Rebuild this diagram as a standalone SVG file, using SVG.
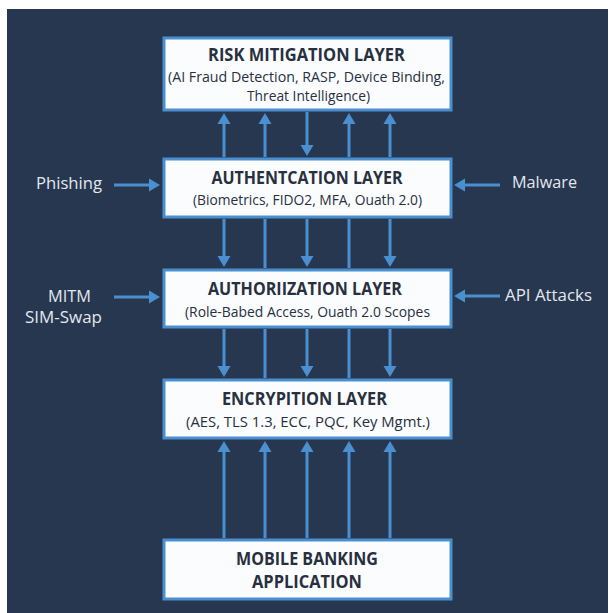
<svg xmlns="http://www.w3.org/2000/svg" width="609" height="613" viewBox="0 0 609 613">
  <style>
    .box { fill: #fbfcfd; stroke: #4a8fd0; stroke-width: 3; }
    .title { font-family: "Open Sans", "Noto Sans", "Liberation Sans", sans-serif; font-weight: 700; font-size: 17.5px; fill: #28303f; text-anchor: middle; }
    .sub { font-family: "Open Sans", "Noto Sans", "Liberation Sans", sans-serif; font-weight: 400; font-size: 15px; fill: #28303f; text-anchor: middle; }
    .side { font-family: "Open Sans", "Noto Sans", "Liberation Sans", sans-serif; font-weight: 400; font-size: 16.5px; fill: #e3e7ee; }
    .link { stroke: #4a8fd0; stroke-width: 3; fill: none; }
    .arrow { stroke: #4a8fd0; stroke-width: 3; fill: none; marker-end: url(#head); }
  </style>
  <defs>
    <marker id="head" markerUnits="userSpaceOnUse" markerWidth="12" markerHeight="14" viewBox="0 -7 12 14" refX="3" refY="0" orient="auto">
      <path d="M0,-6.5 L11,0 L0,6.5 z" fill="#4a8fd0"/>
    </marker>
  </defs>

  <!-- page background -->
  <rect x="0" y="0" width="609" height="613" fill="#ffffff"/>
  <rect x="7" y="9" width="601" height="604" fill="#26374f"/>

  <!-- connectors -->
  <g id="connectors">
    <!-- risk mitigation <-> authentication -->
    <line class="arrow" x1="224" y1="157" x2="224" y2="121"/>
    <line class="arrow" x1="265" y1="157" x2="265" y2="121"/>
    <line class="arrow" x1="307" y1="112" x2="307" y2="148"/>
    <line class="arrow" x1="349" y1="157" x2="349" y2="121"/>
    <line class="arrow" x1="390" y1="157" x2="390" y2="121"/>
    <!-- authentication -> authorization -->
    <line class="arrow" x1="224" y1="219" x2="224" y2="259"/>
    <line class="link" x1="265" y1="219" x2="265" y2="268"/>
    <line class="arrow" x1="307" y1="219" x2="307" y2="259"/>
    <line class="link" x1="349" y1="219" x2="349" y2="268"/>
    <line class="arrow" x1="390" y1="219" x2="390" y2="259"/>
    <!-- authorization -> encryption -->
    <line class="arrow" x1="224" y1="329" x2="224" y2="369"/>
    <line class="link" x1="265" y1="329" x2="265" y2="378"/>
    <line class="arrow" x1="307" y1="329" x2="307" y2="369"/>
    <line class="link" x1="349" y1="329" x2="349" y2="378"/>
    <line class="arrow" x1="390" y1="329" x2="390" y2="369"/>
    <!-- mobile app -> encryption -->
    <line class="arrow" x1="224" y1="538" x2="224" y2="449"/>
    <line class="arrow" x1="265" y1="538" x2="265" y2="449"/>
    <line class="arrow" x1="307" y1="538" x2="307" y2="449"/>
    <line class="arrow" x1="349" y1="538" x2="349" y2="449"/>
    <line class="arrow" x1="390" y1="538" x2="390" y2="449"/>
    <!-- threats -->
    <line class="arrow" x1="114" y1="185" x2="152" y2="185"/>
    <line class="arrow" x1="500" y1="185" x2="462" y2="185"/>
    <line class="arrow" x1="114" y1="297" x2="152" y2="297"/>
    <line class="arrow" x1="500" y1="296" x2="462" y2="296"/>
  </g>

  <!-- layers -->
  <g id="risk-mitigation">
    <rect class="box" x="164" y="38" width="287" height="72"/>
    <text class="title" x="306.5" y="61" textLength="197" lengthAdjust="spacingAndGlyphs">RISK MITIGATION LAYER</text>
    <text class="sub" x="306.5" y="82" textLength="277" lengthAdjust="spacingAndGlyphs">(AI Fraud Detection, RASP, Device Binding,</text>
    <text class="sub" x="308.5" y="101" textLength="123" lengthAdjust="spacingAndGlyphs">Threat Intelligence)</text>
  </g>

  <g id="authentication">
    <rect class="box" x="164" y="159" width="287" height="58"/>
    <text class="title" x="307" y="184" textLength="191" lengthAdjust="spacingAndGlyphs">AUTHENTCATION LAYER</text>
    <text class="sub" x="307.5" y="205" textLength="229" lengthAdjust="spacingAndGlyphs">(Biometrics, FIDO2, MFA, Ouath 2.0)</text>
  </g>

  <g id="authorization">
    <rect class="box" x="164" y="270" width="287" height="57"/>
    <text class="title" x="305" y="295" textLength="194" lengthAdjust="spacingAndGlyphs">AUTHORIIZATION LAYER</text>
    <text class="sub" x="307.5" y="317" textLength="245" lengthAdjust="spacingAndGlyphs">(Role-Babed Access, Ouath 2.0 Scopes</text>
  </g>

  <g id="encryption">
    <rect class="box" x="164" y="380" width="287" height="58"/>
    <text class="title" x="304.5" y="405" textLength="165" lengthAdjust="spacingAndGlyphs">ENCRYPITION LAYER</text>
    <text class="sub" x="308" y="427" textLength="244" lengthAdjust="spacingAndGlyphs">(AES, TLS 1.3, ECC, PQC, Key Mgmt.)</text>
  </g>

  <g id="mobile-app">
    <rect class="box" x="164" y="540" width="287" height="59"/>
    <text class="title" x="307" y="565" textLength="142" lengthAdjust="spacingAndGlyphs">MOBILE BANKING</text>
    <text class="title" x="307" y="588" textLength="110" lengthAdjust="spacingAndGlyphs">APPLICATION</text>
  </g>

  <!-- threat labels -->
  <g id="phishing">
    <text class="side" x="36" y="189" textLength="66" lengthAdjust="spacingAndGlyphs">Phishing</text>
  </g>
  <g id="malware">
    <text class="side" x="512" y="188" textLength="65" lengthAdjust="spacingAndGlyphs">Malware</text>
  </g>
  <g id="mitm-simswap">
    <text class="side" x="48" y="302" textLength="43" lengthAdjust="spacingAndGlyphs">MITM</text>
    <text class="side" x="25" y="323" textLength="77" lengthAdjust="spacingAndGlyphs">SIM-Swap</text>
  </g>
  <g id="api-attacks">
    <text class="side" x="505" y="301" textLength="87" lengthAdjust="spacingAndGlyphs">API Attacks</text>
  </g>
</svg>
